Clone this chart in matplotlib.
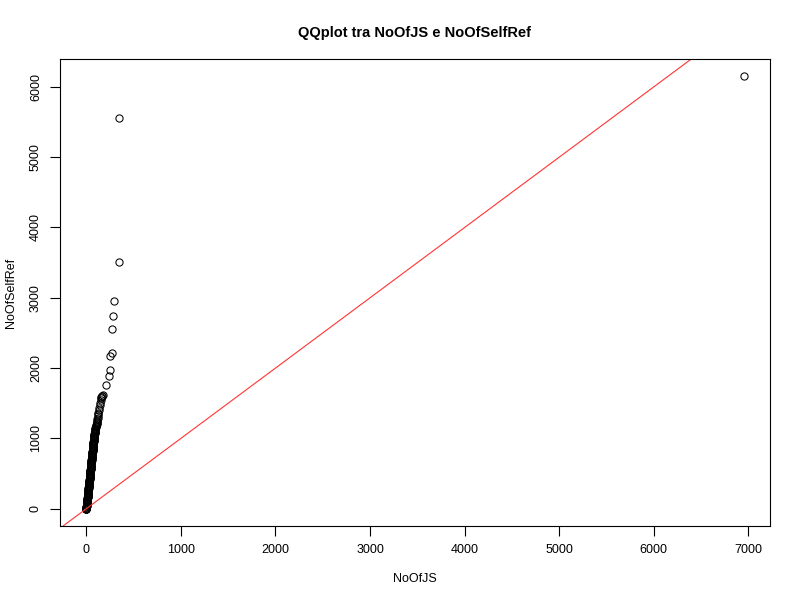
import matplotlib
matplotlib.use("Agg")
import matplotlib.pyplot as plt

plt.rcParams["font.family"] = ["Liberation Sans", "DejaVu Sans"]

# sorted quantiles (NoOfJS vs NoOfSelfRef)
no_of_js = [
    0, 0, 0, 0, 1, 2, 2, 3, 4, 5,
    6, 6, 7, 8, 9, 10, 10, 11, 12, 13,
    14, 14, 15, 16, 17, 18, 18, 19, 20, 21,
    22, 22, 23, 24, 25, 26, 26, 27, 28, 29,
    30, 30, 31, 32, 33, 34, 34, 35, 36, 37,
    38, 38, 39, 40, 41, 42, 42, 43, 44, 45,
    46, 46, 47, 48, 49, 50, 50, 51, 52, 53,
    54, 54, 55, 56, 57, 58, 58, 59, 60, 61,
    62, 62, 63, 64, 65, 66, 66, 67, 68, 69,
    70, 70, 71, 72, 73, 74, 74, 75, 76, 77,
    78, 78, 79, 80, 81, 82, 83, 84, 85, 86,
    87, 88, 89, 90, 91, 92, 94, 96, 98, 100,
    103, 106, 108, 110, 112, 114, 117, 121, 124, 126,
    128, 132, 135, 140, 146, 153, 157, 160, 165, 170,
    177, 206, 237, 248, 248, 269, 269, 279, 290, 343,
    343, 6950,
]
no_of_self_ref = [
    0, 0, 0, 0, 10, 20, 30, 40, 50, 60,
    70, 80, 90, 100, 110, 120, 130, 140, 150, 160,
    170, 180, 190, 200, 210, 220, 230, 240, 250, 260,
    270, 280, 290, 300, 310, 320, 330, 340, 350, 360,
    370, 380, 390, 400, 410, 420, 430, 440, 450, 460,
    470, 480, 490, 500, 510, 520, 530, 540, 550, 560,
    570, 580, 590, 600, 610, 620, 630, 640, 650, 660,
    670, 680, 690, 700, 710, 720, 730, 740, 750, 760,
    770, 780, 790, 800, 810, 820, 830, 840, 850, 860,
    870, 880, 890, 900, 910, 920, 930, 940, 950, 960,
    970, 980, 990, 1000, 1010, 1020, 1030, 1040, 1050, 1060,
    1070, 1081, 1090, 1100, 1112, 1124, 1137, 1150, 1160, 1170,
    1182, 1195, 1208, 1220, 1235, 1250, 1270, 1290, 1320, 1340,
    1361, 1400, 1432, 1470, 1510, 1550, 1570, 1585, 1600, 1610,
    1621, 1764, 1892, 1977, 2176, 2219, 2560, 2745, 2959, 3513,
    5562, 6150,
]

x_ticks = [0, 1000, 2000, 3000, 4000, 5000, 6000, 7000]
y_ticks = [0, 1000, 2000, 3000, 4000, 5000, 6000]

fig = plt.figure(figsize=(8, 6), dpi=100)
ax = fig.add_axes([0.075, 0.1233, 0.8875, 0.7784])

ax.plot(no_of_js, no_of_self_ref, linestyle="none", marker="o", markersize=5.2,
        markerfacecolor="none", markeredgecolor="black", markeredgewidth=0.75)
ax.axline((0, 0), slope=1, color="#ff3333", linewidth=0.8)

ax.set_xlim(-278, 7228)
ax.set_ylim(-246, 6396)
ax.set_xticks(x_ticks)
ax.set_yticks(y_ticks)
ax.tick_params(direction="out", length=7, width=0.8, labelsize=9, pad=6)
for lbl in ax.get_yticklabels():
    lbl.set_rotation(90)
    lbl.set_va("center")
for sp in ax.spines.values():
    sp.set_linewidth(0.8)

ax.set_xlabel("NoOfJS", fontsize=9, labelpad=12)
ax.set_ylabel("NoOfSelfRef", fontsize=9, labelpad=9)
ax.set_title("QQplot tra NoOfJS e NoOfSelfRef", fontsize=10.5,
             fontweight="bold", pad=16)

fig.savefig("out.png", dpi=100)
